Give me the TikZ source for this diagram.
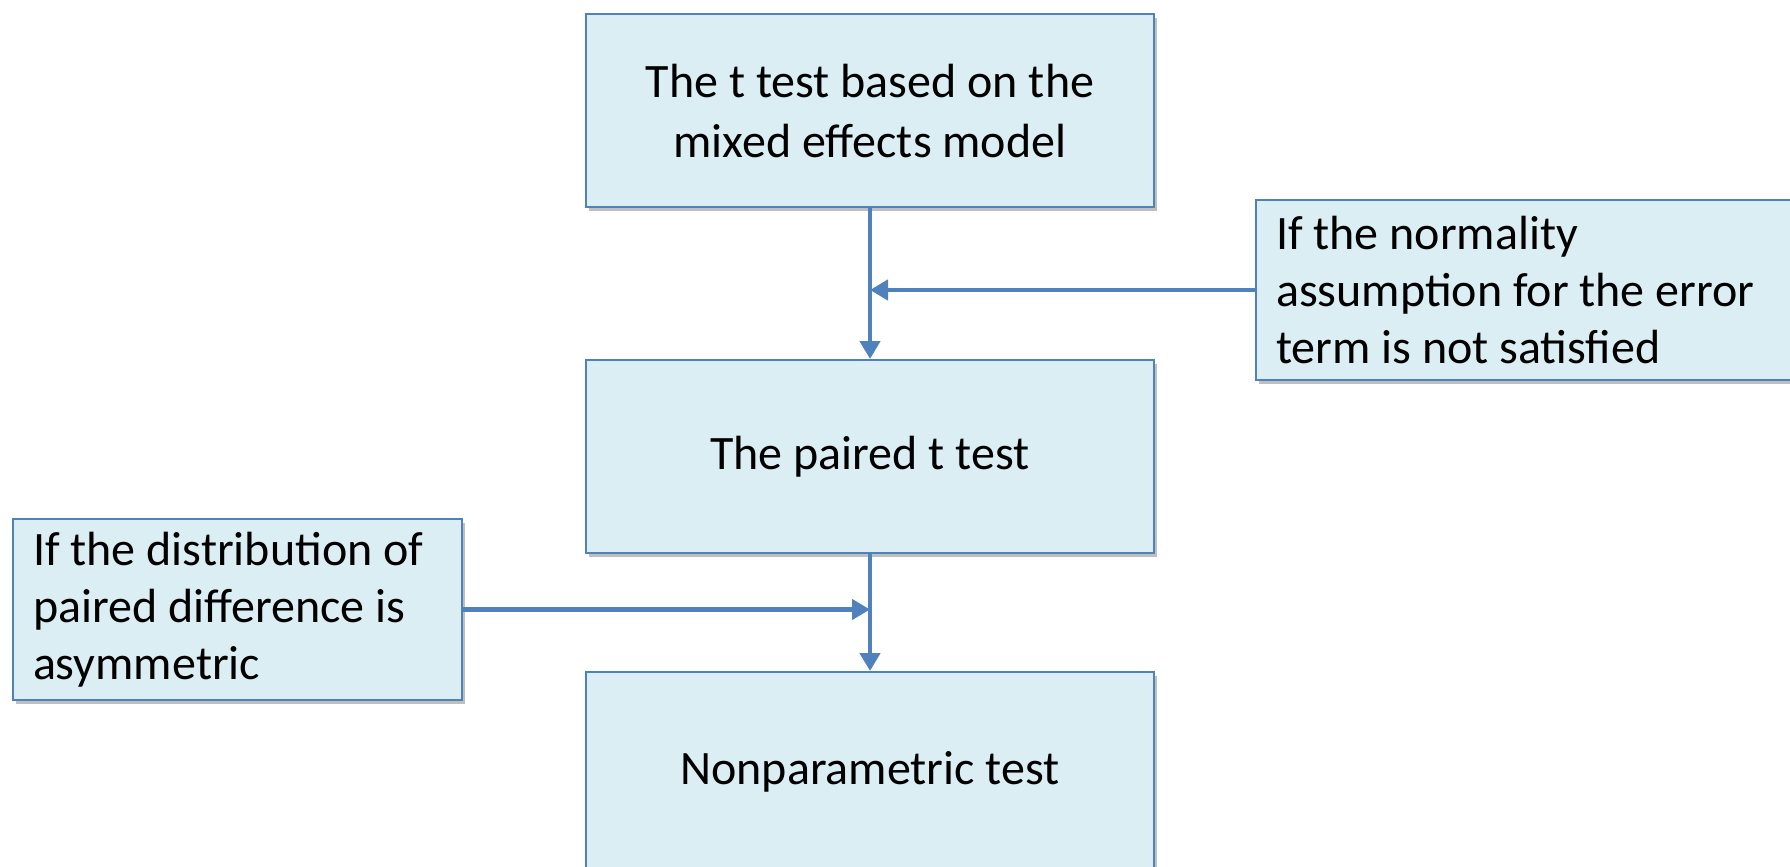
\documentclass[tikz,border=0pt]{standalone}
\usepackage{fontspec}
\setmainfont{Carlito}
\usetikzlibrary{arrows.meta,shadows}

\definecolor{boxfill}{HTML}{DBEEF4}
\definecolor{boxline}{HTML}{4F81BD}

\tikzset{
  testbox/.style={draw=boxline,fill=boxfill,line width=1pt,
    drop shadow={shadow xshift=1.5pt,shadow yshift=-2pt,opacity=0.25,fill=black},
    font=\fontsize{24}{30}\selectfont,align=center,
    minimum width=284pt,minimum height=96.5pt,inner sep=0pt},
  condbox/.style={draw=boxline,fill=boxfill,line width=1pt,
    drop shadow={shadow xshift=1.5pt,shadow yshift=-2pt,opacity=0.25,fill=black},
    font=\fontsize{24}{28.5}\selectfont,align=flush left,
    inner xsep=10pt,inner ysep=0pt},
  flow/.style={draw=boxline,line width=2.25pt,-{Triangle[length=9pt,width=10pt]}}
}

\begin{document}
\begin{tikzpicture}[x=0.5pt,y=-0.5pt]
  \useasboundingbox (0,0) rectangle (1790,867) ;
  % the three tests
  \node[testbox,text depth=-3pt] (mixed) at (870,110.5) {The t test based on the\\mixed effects model} ;
  \node[testbox] (paired) at (870,456.5) {The paired t test} ;
  \node[testbox,minimum height=100pt] (nonpar) at (870,772) {Nonparametric test} ;
  % the conditions
  \node[condbox,text width=249.5pt,minimum height=90pt] (normal) at (1525.5,290)
    {If the normality\\assumption for the error\\term is not satisfied} ;
  \node[condbox,text width=204.5pt,minimum height=90.5pt] (asym) at (237.5,609.5)
    {If the distribution of\\paired difference is\\asymmetric} ;
  % connectors
  \draw[flow] (mixed.south) -- (paired.north) ;
  \draw[flow] (paired.south) -- (nonpar.north) ;
  \draw[flow] (normal.west) -- (normal.west -| mixed.south) ;
  \draw[flow] (asym.east) -- (asym.east -| paired.south) ;
\end{tikzpicture}
\end{document}
